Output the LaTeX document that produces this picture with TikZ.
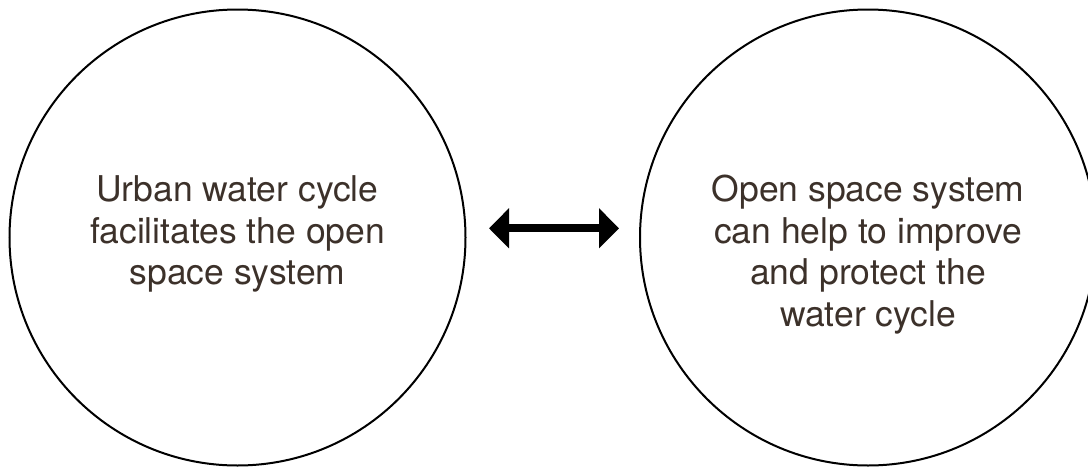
\documentclass[tikz,border=0pt]{standalone}
\usepackage{fontspec}
\setmainfont{TeX Gyre Heros}
\usepackage{xcolor}
\usepackage{tikz}
\usetikzlibrary{arrows.meta}

\definecolor{inkbrown}{RGB}{60,49,42}

\begin{document}
\begin{tikzpicture}
        \tikzset{mycirc/.style={draw,circle,line width=1pt,minimum size=228pt,inner sep=0pt},
        mylabel/.style={anchor=north,align=center,inner sep=0pt,text=inkbrown,%
        font=\fontsize{17.75pt}{20.75pt}\selectfont},
        mydblptr/.style={line width=4pt,{Triangle[length=10pt,width=19.5pt]}-{Triangle[length=10pt,width=19.5pt]}}}

        \useasboundingbox (0,0) rectangle (544pt,234pt);

        % left circle
        \node[mycirc] (lc) at (118.75pt,115.25pt) {};
        \node[mylabel] (ltxt) at (118.75pt,146.3pt) {Urban water cycle\\facilitates the open\\space system};

        % right circle
        \node[mycirc] (rc) at (434pt,115.25pt) {};
        \node[mylabel] (rtxt) at (434pt,146.5pt) {Open space system\\can help to improve\\and protect the\\water cycle};

        % arrow between
        \draw[mydblptr,shorten <=11.25pt,shorten >=10pt] ([yshift=4.6pt]lc.east) -- ([yshift=4.6pt]rc.west);
    \end{tikzpicture}
\end{document}
